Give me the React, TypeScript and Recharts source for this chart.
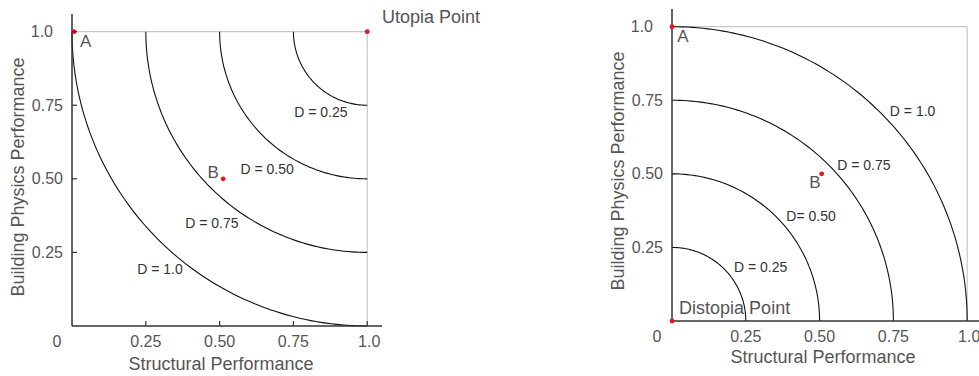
import React from 'react';
import { ComposedChart, Line, Scatter, XAxis, YAxis, ReferenceLine, ReferenceDot, Label } from 'recharts';

// distance contours D, drawn as quarter circles around the reference point
const contourRadii = [0.25, 0.5, 0.75, 1.0];
const xTicks = [0, 0.25, 0.5, 0.75, 1.0];
const yTicks = [0.25, 0.5, 0.75, 1.0];
const tickText: Record<string, string> = { '0': '0', '0.25': '0.25', '0.5': '0.50', '0.75': '0.75', '1': '1.0' };

// left: distance to the utopia point (1, 1)
const utopiaCenter = { x: 1, y: 1 };
const leftPoints = [
  { name: 'A', x: 0.007, y: 1.0 },
  { name: 'B', x: 0.512, y: 0.5 },
  { name: 'Utopia', x: 1.0, y: 1.0 },
];
const leftContourText = ['D = 0.25', 'D = 0.50', 'D = 0.75', 'D = 1.0'];

// right: distance to the distopia point (0, 0)
const distopiaCenter = { x: 0, y: 0 };
const rightPoints = [
  { name: 'A', x: 0.0, y: 1.0 },
  { name: 'B', x: 0.507, y: 0.5 },
  { name: 'Distopia', x: 0.0, y: 0.0 },
];
const rightContourText = ['D = 0.25', 'D= 0.50', 'D = 0.75', 'D = 1.0'];

const FONT = "'Liberation Sans', Arial, sans-serif";
const TEXT = '#555';
const RED = '#e8141c';

type Note = { text: string; x: number; y: number; size: number; anchor?: 'start' | 'middle' | 'end' };

// annotation anchors (data units)
const leftNotes: Note[] = [
  { text: leftContourText[0], x: 0.843, y: 0.727, size: 14 },
  { text: leftContourText[1], x: 0.661, y: 0.533, size: 14 },
  { text: leftContourText[2], x: 0.474, y: 0.351, size: 14 },
  { text: leftContourText[3], x: 0.298, y: 0.194, size: 14 },
  { text: 'A', x: 0.046, y: 0.965, size: 17 },
  { text: 'B', x: 0.478, y: 0.52, size: 17 },
  { text: 'Utopia Point', x: 1.05, y: 1.05, size: 18, anchor: 'start' },
];
const rightNotes: Note[] = [
  { text: rightContourText[3], x: 0.815, y: 0.713, size: 14 },
  { text: rightContourText[2], x: 0.65, y: 0.53, size: 14 },
  { text: rightContourText[1], x: 0.471, y: 0.356, size: 14 },
  { text: rightContourText[0], x: 0.3, y: 0.183, size: 14 },
  { text: 'A', x: 0.037, y: 0.968, size: 17 },
  { text: 'B', x: 0.484, y: 0.472, size: 17 },
  { text: 'Distopia Point', x: 0.024, y: 0.043, size: 18, anchor: 'start' },
];

const arcPoints = (cx: number, cy: number, r: number, dir: number) => {
  const pts = [];
  for (let i = 0; i <= 90; i++) {
    const t = (i / 90) * (Math.PI / 2);
    pts.push({ x: cx + dir * r * Math.cos(t), y: cy + dir * r * Math.sin(t) });
  }
  return pts;
};

const makeXTick = (inner: boolean) => (props: any) => {
  const { x, y, payload } = props;
  const v = payload.value;
  const shift = v === 0 ? -15 : v === 1 ? 2 : 0;
  return (
    <g>
      {inner && v !== 0 && <line x1={x} x2={x} y1={y} y2={y - 5} stroke="#333" strokeWidth={1.2} />}
      <text x={x + shift} y={y + 15.5} textAnchor="middle" dominantBaseline="central" fontSize={16} fill={TEXT} fontFamily={FONT}>
        {tickText[String(v)]}
      </text>
    </g>
  );
};

const makeYTick = (inner: boolean) => (props: any) => {
  const { x, y, payload } = props;
  const v = payload.value;
  return (
    <g>
      {inner && <line x1={x} x2={x + 5} y1={y} y2={y} stroke="#333" strokeWidth={1.2} />}
      <text x={x - 9 - (v === 1 ? 10 : 0)} y={y} textAnchor="end" dominantBaseline="central" fontSize={16} fill={TEXT} fontFamily={FONT}>
        {tickText[String(v)]}
      </text>
    </g>
  );
};

type PanelProps = {
  width: number;
  height: number;
  margin: { top: number; right: number; bottom: number; left: number };
  yAxisWidth: number;
  xAxisHeight: number;
  xMax: number;
  yMax: number;
  center: { x: number; y: number };
  dir: number;
  points: { name: string; x: number; y: number }[];
  notes: Note[];
  innerTicks: boolean;
  xTitle: { x: number; y: number };
  yTitle: { x: number; y: number };
};

const Panel = (p: PanelProps) => (
  <ComposedChart width={p.width} height={p.height} margin={p.margin}>
    <XAxis
      dataKey="x"
      type="number"
      domain={[0, p.xMax]}
      ticks={xTicks}
      interval={0}
      height={p.xAxisHeight}
      tickSize={0}
      tickMargin={0}
      tick={makeXTick(p.innerTicks)}
      stroke="#333"
      strokeWidth={1.5}
    >
      <Label
        content={() => (
          <text x={p.xTitle.x} y={p.xTitle.y} textAnchor="middle" dominantBaseline="central" fontSize={18} fill={TEXT} fontFamily={FONT}>
            Structural Performance
          </text>
        )}
      />
    </XAxis>
    <YAxis
      dataKey="y"
      type="number"
      domain={[0, p.yMax]}
      ticks={yTicks}
      interval={0}
      width={p.yAxisWidth}
      tickSize={0}
      tickMargin={0}
      tick={makeYTick(p.innerTicks)}
      stroke="#333"
      strokeWidth={1.5}
    >
      <Label
        content={() => (
          <text
            x={p.yTitle.x}
            y={p.yTitle.y}
            textAnchor="middle"
            dominantBaseline="central"
            fontSize={18}
            fill={TEXT}
            fontFamily={FONT}
            transform={`rotate(-90 ${p.yTitle.x} ${p.yTitle.y})`}
          >
            Building Physics Performance
          </text>
        )}
      />
    </YAxis>
    <ReferenceLine segment={[{ x: 0, y: 1 }, { x: 1, y: 1 }]} stroke="#c8c8c8" strokeWidth={1.2} />
    <ReferenceLine segment={[{ x: 1, y: 0 }, { x: 1, y: 1 }]} stroke="#c8c8c8" strokeWidth={1.2} />
    {contourRadii.map((r) => (
      <Line
        key={r}
        data={arcPoints(p.center.x, p.center.y, r, p.dir)}
        dataKey="y"
        type="linear"
        dot={false}
        stroke="#111"
        strokeWidth={1.1}
        isAnimationActive={false}
      />
    ))}
    <Scatter
      data={p.points}
      dataKey="y"
      fill={RED}
      isAnimationActive={false}
      shape={(s: any) => <circle cx={s.cx} cy={s.cy} r={2.4} fill={RED} />}
    />
    {p.notes.map((n) => (
      <ReferenceDot
        key={n.text}
        x={n.x}
        y={n.y}
        ifOverflow="visible"
        shape={(s: any) => (
          <text
            x={s.cx}
            y={s.cy}
            textAnchor={n.anchor || 'middle'}
            dominantBaseline="central"
            fontSize={n.size}
            fill={n.size < 15 ? '#333' : TEXT}
            fontFamily={FONT}
          >
            {n.text}
          </text>
        )}
      />
    ))}
  </ComposedChart>
);

export default function App() {
  return (
    <div style={{ position: 'absolute', left: 0, top: 0, width: 979, height: 376, background: '#fff' }}>
      <div style={{ position: 'absolute', left: 0, top: 0 }}>
        <Panel
          width={490}
          height={376}
          margin={{ top: 14, right: 108, bottom: 0, left: 0 }}
          yAxisWidth={72}
          xAxisHeight={50}
          xMax={1.05}
          yMax={1.06}
          center={utopiaCenter}
          dir={-1}
          points={leftPoints}
          notes={leftNotes}
          innerTicks={true}
          xTitle={{ x: 221, y: 364 }}
          yTitle={{ x: 18, y: 177 }}
        />
      </div>
      <div style={{ position: 'absolute', left: 490, top: 0 }}>
        <Panel
          width={489}
          height={376}
          margin={{ top: 9, right: 0, bottom: 0, left: 0 }}
          yAxisWidth={182}
          xAxisHeight={55}
          xMax={1.04}
          yMax={1.06}
          center={distopiaCenter}
          dir={1}
          points={rightPoints}
          notes={rightNotes}
          innerTicks={false}
          xTitle={{ x: 333, y: 357 }}
          yTitle={{ x: 128, y: 171 }}
        />
      </div>
    </div>
  );
}
